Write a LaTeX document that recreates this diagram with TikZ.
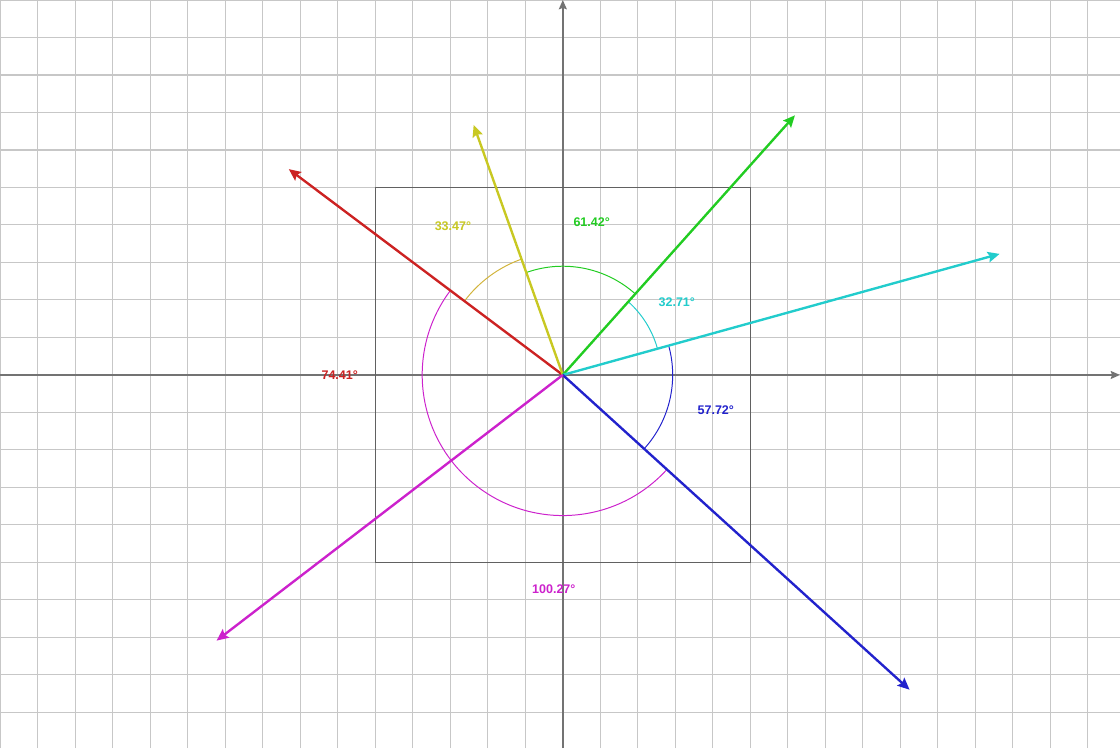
\documentclass[tikz,border=0pt]{standalone}
\usepackage{fontspec}
\setmainfont{Liberation Sans}
\usepackage{tikz}
\usetikzlibrary{calc}
\usetikzlibrary{arrows.meta}

\definecolor{vred}{RGB}{204,34,34}
\definecolor{vyellow}{RGB}{200,200,34}
\definecolor{vgold}{RGB}{210,180,60}
\definecolor{vgreen}{RGB}{34,204,34}
\definecolor{vcyan}{RGB}{34,204,204}
\definecolor{vblue}{RGB}{34,34,204}
\definecolor{vmagenta}{RGB}{204,34,204}

\begin{document}
\begin{tikzpicture}[>={Stealth[length=9pt,width=8pt,inset=1.5pt]},
  vec/.style={line width=1.8pt},
  ang/.style={line width=0.75pt},
  lbl/.style={font=\bfseries\fontsize{9.5}{11}\selectfont}]
\useasboundingbox (-15.01,-9.95) rectangle (14.86,10);
\clip (-15.01,-9.95) rectangle (14.86,10);
\draw[black!22, line width=0.8pt] (-15.01,-9.95) grid (14.86,10);

\coordinate (O) at (0,0);
\coordinate (x_left) at (-15.01,0);
\coordinate (x_right) at (14.86,0);
\coordinate (y_bottom) at (0,-9.95);
\coordinate (y_top) at (0,10);
\draw(x_left) edge[-{Stealth[length=7pt,width=6pt,inset=1pt]}, black!55, line width=1.4pt](x_right);
\draw(y_bottom) edge[-{Stealth[length=7pt,width=6pt,inset=1pt]}, black!55, line width=1.4pt](y_top);
\draw[black!62, line width=1.2pt] (-5,-5) rectangle (5,5);

\coordinate (tip_red) at (143.09:9.14);
\coordinate (tip_yellow) at (109.62:7.08);
\coordinate (tip_green) at (48.2:9.29);
\coordinate (tip_cyan) at (15.49:12.09);
\coordinate (tip_blue) at (-42.23:12.49);
\coordinate (tip_magenta) at (-142.5:11.64);

\draw[vmagenta, ang] (-216.91:3.75) arc (-216.91:-42.23:3.75);
\draw[vgold, ang] (109.62:3.28) arc (109.62:143.09:3.28);
\draw[vgreen, ang] (48.2:2.9) arc (48.2:109.62:2.9);
\draw[vcyan, ang] (15.49:2.62) arc (15.49:48.2:2.62);
\draw[vblue, ang] (-42.23:2.93) arc (-42.23:15.49:2.93);

\draw(O) edge[->, vec, vred](tip_red);
\draw(O) edge[->, vec, vyellow](tip_yellow);
\draw(O) edge[->, vec, vgreen](tip_green);
\draw(O) edge[->, vec, vcyan](tip_cyan);
\draw(O) edge[->, vec, vblue](tip_blue);
\draw(O) edge[->, vec, vmagenta](tip_magenta);

\node[name=ang_yellow, lbl, vyellow] at (-2.93,3.97) {33.47°};
\node[name=ang_green, lbl, vgreen] at (0.77,4.08) {61.42°};
\node[name=ang_cyan, lbl, vcyan] at (3.04,1.95) {32.71°};
\node[name=ang_blue, lbl, vblue] at (4.08,-0.93) {57.72°};
\node[name=ang_magenta, lbl, vmagenta] at (-0.24,-5.71) {100.27°};
\node[name=ang_red, lbl, vred] at (-5.95,0) {74.41°};
\end{tikzpicture}
\end{document}
